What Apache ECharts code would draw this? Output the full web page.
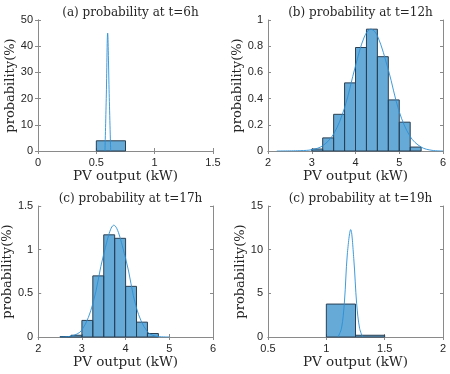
<!DOCTYPE html>
<html>
<head>
<meta charset="utf-8">
<script src="https://cdn.jsdelivr.net/npm/echarts@6/dist/echarts.min.js"></script>
<style>
  html, body { margin: 0; padding: 0; background: #fff; }
  #myChart { width: 450px; height: 374px; }
</style>
</head>
<body>
<div id="myChart"></div>
<script>
// panel titles
const titles = [
  "(a) probability at t=6h",
  "(b) probability at t=12h",
  "(c) probability at t=17h",
  "(c) probability at t=19h"
];

// axis ranges [min, max, interval]
const xRanges = [[0, 1.5, 0.5], [2, 6, 1], [2, 6, 1], [0.5, 2, 0.5]];
const yRanges = [[0, 50, 10], [0, 1, 0.2], [0, 1.5, 0.5], [0, 15, 5]];

// histogram bins: [left, right, height]
const bars6h = [[0.5, 0.75, 3.9]];
const bars12h = [
  [3.0, 3.25, 0.015], [3.25, 3.5, 0.10], [3.5, 3.75, 0.28], [3.75, 4.0, 0.52],
  [4.0, 4.25, 0.79], [4.25, 4.5, 0.93], [4.5, 4.75, 0.72], [4.75, 5.0, 0.39],
  [5.0, 5.25, 0.22], [5.25, 5.5, 0.03]
];
const bars17h = [
  [2.5, 2.75, 0.005], [2.75, 3.0, 0.02], [3.0, 3.25, 0.19], [3.25, 3.5, 0.70],
  [3.5, 3.75, 1.17], [3.75, 4.0, 1.13], [4.0, 4.25, 0.58], [4.25, 4.5, 0.17],
  [4.5, 4.75, 0.04]
];
const bars19h = [[1.0, 1.25, 3.77], [1.25, 1.5, 0.2]];

// fitted curves: [x, y]
const curve6h = [[0.574, 0], [0.585, 20], [0.597, 45], [0.61, 22], [0.623, 0]];
const curve12h = [
  [2.2, 0], [2.75, 0.003], [3.0, 0.01], [3.25, 0.04], [3.5, 0.13], [3.75, 0.33],
  [4.0, 0.65], [4.2, 0.87], [4.35, 0.93], [4.5, 0.88], [4.75, 0.62], [5.0, 0.30],
  [5.25, 0.11], [5.5, 0.03], [5.75, 0.005], [6.0, 0]
];
const curve17h = [
  [2.5, 0], [2.75, 0.01], [3.0, 0.08], [3.25, 0.38], [3.5, 0.95], [3.73, 1.28],
  [4.0, 0.90], [4.25, 0.33], [4.5, 0.06], [4.75, 0.005], [5.0, 0]
];
const curve19h = [
  [1.1, 0], [1.13, 1], [1.155, 4], [1.18, 9.5], [1.209, 12.3], [1.235, 9],
  [1.26, 3.8], [1.285, 1], [1.311, 0]
];

const barSets = [bars6h, bars12h, bars17h, bars19h];
const curveSets = [curve6h, curve12h, curve17h, curve19h];

const grids = [
  { left: 38, top: 20, width: 175, height: 131 },
  { left: 268, top: 20, width: 175, height: 131 },
  { left: 38, top: 206, width: 175, height: 131 },
  { left: 268, top: 206, width: 175, height: 131 }
];

const serif = "DejaVu Serif";
const sans = "Liberation Sans";
const axisGray = "#8a8a8a";
const textColor = "#262626";

const renderBar = function(params, api) {
  const p0 = api.coord([api.value(0), api.value(2)]);
  const p1 = api.coord([api.value(1), 0]);
  return {
    type: "rect",
    shape: { x: p0[0], y: p0[1], width: p1[0] - p0[0], height: p1[1] - p0[1] },
    style: { fill: "rgba(0,114,189,0.6)", stroke: "#2a3f52", lineWidth: 1 }
  };
};

let xAxis = [];
let yAxis = [];
let series = [];
let title = [];

grids.forEach((g, i) => {
  title.push({
    text: titles[i],
    left: g.left + g.width / 2,
    top: g.top - 18,
    textAlign: "center",
    textStyle: { fontFamily: serif, fontSize: 12, fontWeight: "normal", color: textColor }
  });
  const xr = xRanges[i];
  const yr = yRanges[i];
  // bottom and left axes with labels
  xAxis.push({
    type: "value", gridIndex: i, min: xr[0], max: xr[1], interval: xr[2],
    name: "PV output (kW)", nameLocation: "middle", nameGap: 18,
    nameTextStyle: { fontFamily: serif, fontSize: 13.5, color: textColor },
    axisLine: { show: true, lineStyle: { color: axisGray } },
    axisTick: { show: true, inside: true, length: 3, lineStyle: { color: axisGray } },
    axisLabel: { fontFamily: sans, fontSize: 11, color: textColor, margin: 6 },
    splitLine: { show: false }
  });
  yAxis.push({
    type: "value", gridIndex: i, min: yr[0], max: yr[1], interval: yr[2],
    name: "probability(%)", nameLocation: "middle", nameGap: 18,
    nameTextStyle: { fontFamily: serif, fontSize: 13, color: textColor },
    axisLine: { show: true, lineStyle: { color: axisGray } },
    axisTick: { show: true, inside: true, length: 3, lineStyle: { color: axisGray } },
    axisLabel: { fontFamily: sans, fontSize: 11, color: textColor, margin: 5 },
    splitLine: { show: false }
  });
  // top and right axes for the box
  xAxis.push({
    type: "value", gridIndex: i, position: "top", min: xr[0], max: xr[1], interval: xr[2],
    axisLine: { show: true, lineStyle: { color: axisGray } },
    axisTick: { show: true, inside: true, length: 3, lineStyle: { color: axisGray } },
    axisLabel: { show: false }, splitLine: { show: false }
  });
  yAxis.push({
    type: "value", gridIndex: i, position: "right", min: yr[0], max: yr[1], interval: yr[2],
    axisLine: { show: true, lineStyle: { color: axisGray } },
    axisTick: { show: true, inside: true, length: 3, lineStyle: { color: axisGray } },
    axisLabel: { show: false }, splitLine: { show: false }
  });

  series.push({
    type: "custom",
    xAxisIndex: i * 2,
    yAxisIndex: i * 2,
    renderItem: renderBar,
    encode: { x: [0, 1], y: 2 },
    data: barSets[i],
    z: 2
  });
  series.push({
    type: "line",
    xAxisIndex: i * 2,
    yAxisIndex: i * 2,
    data: curveSets[i],
    smooth: 0.35,
    showSymbol: false,
    lineStyle: { color: "#2b8fd6", width: 0.9 },
    z: 3
  });
});

const myChart = echarts.init(document.getElementById("myChart"));
const option = {
  animation: false,
  backgroundColor: "#fff",
  title: title,
  grid: grids,
  xAxis: xAxis,
  yAxis: yAxis,
  series: series
};
myChart.setOption(option);
</script>
</body>
</html>
